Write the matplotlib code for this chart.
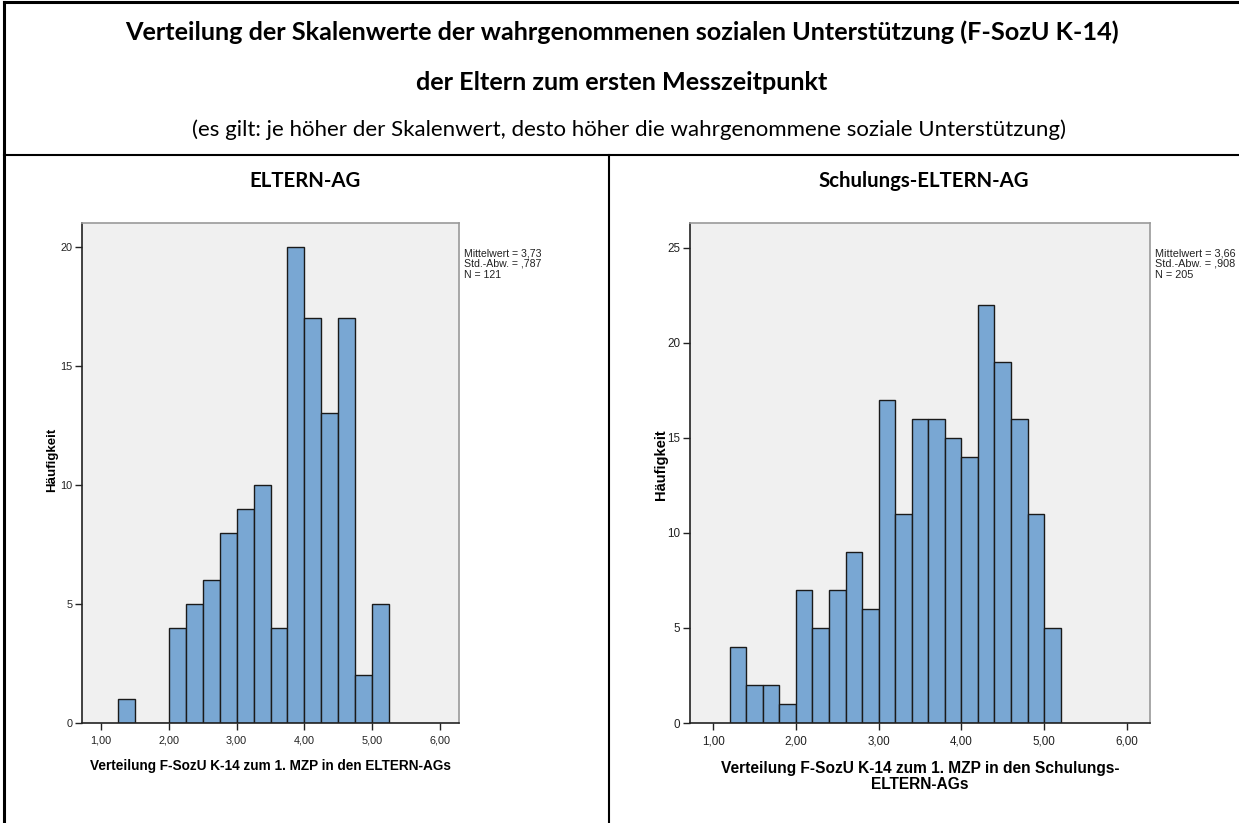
import numpy as np
import matplotlib
matplotlib.use("Agg")
import matplotlib.pyplot as plt
from matplotlib.lines import Line2D

# Histogram bins and counts (F-SozU K-14 scale values, first measurement)
eltern_edges = [1.25, 1.50, 1.75, 2.00, 2.25, 2.50, 2.75, 3.00, 3.25, 3.50,
                3.75, 4.00, 4.25, 4.50, 4.75, 5.00, 5.25]
eltern_counts = [1, 0, 0, 4, 5, 6, 8, 9, 10, 4, 20, 17, 13, 17, 2, 5]

schulung_edges = [1.2, 1.4, 1.6, 1.8, 2.0, 2.2, 2.4, 2.6, 2.8, 3.0, 3.2,
                  3.4, 3.6, 3.8, 4.0, 4.2, 4.4, 4.6, 4.8, 5.0, 5.2]
schulung_counts = [4, 2, 2, 1, 7, 5, 7, 9, 6, 17, 11, 16, 16, 15, 14, 22,
                   19, 16, 11, 5]

x_ticks = [1, 2, 3, 4, 5, 6]
x_ticklabels = ["1,00", "2,00", "3,00", "4,00", "5,00", "6,00"]

eltern_stats = ["Mittelwert = 3,73", "Std.-Abw. = ,787", "N = 121"]
schulung_stats = ["Mittelwert = 3,66", "Std.-Abw. = ,908", "N = 205"]

title_1 = "Verteilung der Skalenwerte der wahrgenommenen sozialen Unterstützung (F-SozU K-14)"
title_2 = "der Eltern zum ersten Messzeitpunkt"
subtitle = "(es gilt: je höher der Skalenwert, desto höher die wahrgenommene soziale Unterstützung)"
panel_titles = ["ELTERN-AG", "Schulungs-ELTERN-AG"]
x_labels = ["Verteilung F-SozU K-14 zum 1. MZP in den ELTERN-AGs",
            "Verteilung F-SozU K-14 zum 1. MZP in den Schulungs-\nELTERN-AGs"]
y_label = "Häufigkeit"

W, H = 1239, 823
fig = plt.figure(figsize=(W / 100, H / 100), dpi=100)
fig.patch.set_facecolor("white")

HEAD_FONT = ["Lato", "DejaVu Sans"]
SPSS_FONT = ["Liberation Sans Narrow", "Liberation Sans", "DejaVu Sans"]
SPSS_BOLD = ["Liberation Sans", "DejaVu Sans"]


def fx(px):
    return px / W


def fy(py):
    return 1 - py / H


def line(x0, y0, x1, y1, lw=1.5):
    fig.add_artist(Line2D([fx(x0), fx(x1)], [fy(y0), fy(y1)], color="black",
                          lw=lw, transform=fig.transFigure))


# table grid
line(4, 2, 1239, 2, lw=2.2)
line(4, 2, 4, 823, lw=2.2)
line(4, 155, 1239, 155, lw=1.5)
line(609, 155, 609, 823, lw=1.5)

# header texts
fig.text(fx(622), fy(32), title_1, ha="center", va="center", fontsize=18.2,
         fontweight="bold", family=HEAD_FONT)
fig.text(fx(622), fy(82), title_2, ha="center", va="center", fontsize=18.2,
         fontweight="bold", family=HEAD_FONT)
fig.text(fx(629), fy(130), subtitle, ha="center", va="center", fontsize=16,
         family=HEAD_FONT)
fig.text(fx(305), fy(181), panel_titles[0], ha="center", va="center",
         fontsize=14.7, fontweight="bold", family=HEAD_FONT)
fig.text(fx(924), fy(181), panel_titles[1], ha="center", va="center",
         fontsize=14.7, fontweight="bold", family=HEAD_FONT)

BAR_FILL = "#79a7d3"
BG = "#f0f0f0"


def draw_hist(box, edges, counts, ymax, yticks, stats, xlabel, ylabel_pos,
              tick_fs, label_fs, ylab_fs, stats_fs):
    x0, y0, x1, y1 = box
    ax = fig.add_axes([fx(x0), fy(y1), fx(x1 - x0), (y1 - y0) / H])
    ax.set_facecolor(BG)
    widths = np.diff(edges)
    ax.bar(edges[:-1], counts, width=widths, align="edge", color=BAR_FILL,
           edgecolor="#1a1a1a", linewidth=1.0, zorder=2)
    ax.set_xlim(0.72, 6.28)
    ax.set_ylim(0, ymax)
    ax.set_xticks(x_ticks)
    ax.set_xticklabels(x_ticklabels)
    ax.set_yticks(yticks)
    ax.set_yticklabels([str(t) for t in yticks])
    for lab in ax.get_xticklabels() + ax.get_yticklabels():
        lab.set_family(SPSS_FONT)
        lab.set_fontsize(tick_fs)
        lab.set_color("#222222")
    ax.tick_params(axis="both", direction="out", length=5, width=1.0,
                   color="#222222", pad=2)
    ax.tick_params(axis="x", pad=4)
    ax.spines["left"].set_color("#222222")
    ax.spines["bottom"].set_color("#222222")
    ax.spines["top"].set_color("#9a9a9a")
    ax.spines["right"].set_color("#9a9a9a")
    for s in ax.spines.values():
        s.set_linewidth(1.2)
    ax.set_xlabel(xlabel, fontsize=label_fs, fontweight="bold",
                  family=SPSS_BOLD, labelpad=10, linespacing=1.05)
    fig.text(fx(ylabel_pos[0]), fy(ylabel_pos[1]), y_label, rotation=90,
             ha="center", va="center", fontsize=ylab_fs,
             fontweight="bold", family=SPSS_BOLD)
    fig.text(fx(x1 + 5), fy(y0 + 25), "\n".join(stats), ha="left", va="top",
             fontsize=stats_fs, family=SPSS_FONT, linespacing=1.1,
             color="#222222")
    return ax


draw_hist((82, 223, 459, 723), eltern_edges, eltern_counts, 21.0,
          [0, 5, 10, 15, 20], eltern_stats, x_labels[0], (52, 460),
          7.8, 9.8, 9.5, 7.6)
draw_hist((690, 223, 1150, 723), schulung_edges, schulung_counts, 26.3,
          [0, 5, 10, 15, 20, 25], schulung_stats, x_labels[1], (661, 465),
          8.4, 11.2, 10.5, 7.8)

fig.savefig("out.png", dpi=100, facecolor="white")
